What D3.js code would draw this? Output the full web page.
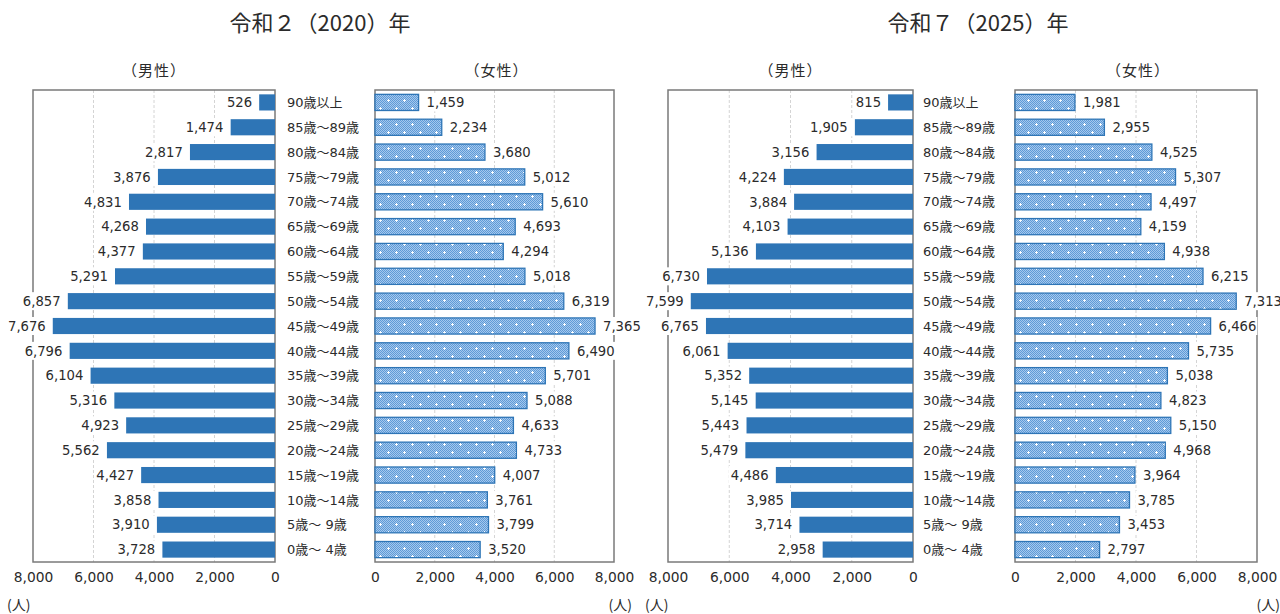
<!DOCTYPE html>
<html><head><meta charset="utf-8">
<script src="https://cdn.jsdelivr.net/npm/d3@7"></script>
<style>
html,body{margin:0;padding:0;background:#fff;}
svg text{font-family:"DejaVu Sans","Noto Sans CJK JP",sans-serif;fill:#2b2b2b;}
svg text.cjk{font-family:"Noto Sans CJK JP","Noto Sans",sans-serif;}
</style></head>
<body>
<svg id="c" width="1280" height="614"></svg>
<script>
const ages = ["90歳以上","85歳～89歳","80歳～84歳","75歳～79歳","70歳～74歳","65歳～69歳","60歳～64歳","55歳～59歳","50歳～54歳","45歳～49歳","40歳～44歳","35歳～39歳","30歳～34歳","25歳～29歳","20歳～24歳","15歳～19歳","10歳～14歳","5歳～ 9歳","0歳～ 4歳"];
const male2020 = [526,1474,2817,3876,4831,4268,4377,5291,6857,7676,6796,6104,5316,4923,5562,4427,3858,3910,3728];
const female2020 = [1459,2234,3680,5012,5610,4693,4294,5018,6319,7365,6490,5701,5088,4633,4733,4007,3761,3799,3520];
const male2025 = [815,1905,3156,4224,3884,4103,5136,6730,7599,6765,6061,5352,5145,5443,5479,4486,3985,3714,2958];
const female2025 = [1981,2955,4525,5307,4497,4159,4938,6215,7313,6466,5735,5038,4823,5150,4968,3964,3785,3453,2797];
const ticks = [0,2000,4000,6000,8000];
const titles = ["令和２（2020）年","令和７（2025）年"];
const sexLabels = ["（男性）","（女性）"];
const unitLabel = "(人)";

const svg = d3.select("#c");
const fmt = d3.format(",");

// pattern for female bars
const defs = svg.append("defs");
const pat = defs.append("pattern").attr("id","fpat").attr("patternUnits","userSpaceOnUse")
  .attr("width",16).attr("height",16);
pat.append("rect").attr("width",16).attr("height",16).attr("fill","#a4c8ee");
for (let i=0;i<16;i++) for (let j=0;j<16;j++) if ((i+j)%2===0)
  pat.append("rect").attr("x",i).attr("y",j).attr("width",1).attr("height",1).attr("fill","#5f9ad6");
[[4,4],[12,12]].forEach(([cx,cy])=>{
  pat.append("rect").attr("x",cx-1).attr("y",cy).attr("width",3).attr("height",1).attr("fill","#fff");
  pat.append("rect").attr("x",cx).attr("y",cy-1).attr("width",1).attr("height",3).attr("fill","#fff");
});

const yTop = 90, yBottom = 562;
const y = d3.scaleBand().domain(ages).range([yTop,yBottom]).paddingInner(0.35).paddingOuter(0.175);

const panels = [
  {title:titles[0], tx:320, male:male2020, female:female2020, m0:275, m8:33, f0:375, f8:614, ageX:287, mMin:8, unitL:7, unitR:632},
  {title:titles[1], tx:978, male:male2025, female:female2025, m0:913, m8:668, f0:1015, f8:1257, ageX:923, mMin:646, unitL:645, unitR:1280}
];
const VAL = 13.2;

function measure(str, size){
  const t = svg.append("text").attr("font-size",size).text(str);
  const w = t.node().getComputedTextLength(); t.remove(); return w;
}

panels.forEach(p=>{
  svg.append("text").attr("class","cjk").attr("x",p.tx).attr("y",31).attr("text-anchor","middle")
    .attr("font-size",22).text(p.title);

  const xm = d3.scaleLinear().domain([0,8000]).range([p.m0,p.m8]);
  const xf = d3.scaleLinear().domain([0,8000]).range([p.f0,p.f8]);

  [[xm,0],[xf,1]].forEach(([x,k])=>{
    const g = svg.append("g");
    const [a,b] = x.range(); const lo=Math.min(a,b), hi=Math.max(a,b);
    g.selectAll("line.grid").data(ticks.filter(t=>t>0&&t<8000)).join("line")
      .attr("x1",d=>x(d)).attr("x2",d=>x(d)).attr("y1",yTop).attr("y2",yBottom)
      .attr("stroke","#d4d4d4").attr("stroke-width",1).attr("stroke-dasharray","3,2");
    g.append("rect").attr("x",lo).attr("y",yTop).attr("width",hi-lo).attr("height",yBottom-yTop)
      .attr("fill","none").attr("stroke","#7a7a7a").attr("stroke-width",1.5);
    const ax = svg.append("g").attr("transform",`translate(0,${yBottom})`)
      .call(d3.axisBottom(x).tickValues(ticks).tickFormat(fmt).tickSize(0).tickPadding(10));
    ax.select(".domain").remove();
    ax.selectAll("text").attr("font-size",13.8).attr("fill","#2b2b2b")
      .style("font-family",'"DejaVu Sans","Noto Sans CJK JP",sans-serif');
    svg.append("text").attr("class","cjk").attr("x",(lo+hi)/2 + (k===0?0:2)).attr("y",76).attr("text-anchor","middle")
      .attr("font-size",15).attr("letter-spacing",1).text(sexLabels[k]);
  });

  svg.append("g").selectAll("rect").data(p.male).join("rect")
    .attr("x",d=>xm(d)).attr("width",d=>xm(0)-xm(d))
    .attr("y",(d,i)=>y(ages[i])).attr("height",y.bandwidth())
    .attr("fill","#2e75b6");
  svg.append("g").selectAll("rect").data(p.female).join("rect")
    .attr("x",xf(0)).attr("width",d=>xf(d)-xf(0))
    .attr("y",(d,i)=>y(ages[i])).attr("height",y.bandwidth())
    .attr("fill","url(#fpat)").attr("stroke","#2e75b6").attr("stroke-width",1.3);

  p.male.forEach((d,i)=>{
    const s = fmt(d), w = measure(s,VAL);
    let right = xm(d) - 7;
    if (right - w < p.mMin) right = p.mMin + w;
    const cy = y(ages[i]) + y.bandwidth()/2;
    svg.append("rect").attr("x",right-w-2).attr("y",cy-9).attr("width",w+9).attr("height",18).attr("fill","#fff");
    svg.append("text").attr("x",right).attr("y",cy).attr("dy","0.36em").attr("text-anchor","end")
      .attr("font-size",VAL).text(s);
  });
  p.female.forEach((d,i)=>{
    const s = fmt(d), w = measure(s,VAL);
    const left = xf(d) + 8;
    const cy = y(ages[i]) + y.bandwidth()/2;
    svg.append("rect").attr("x",left-2).attr("y",cy-9).attr("width",w+3).attr("height",18).attr("fill","#fff");
    svg.append("text").attr("x",left).attr("y",cy).attr("dy","0.36em")
      .attr("font-size",VAL).text(s);
  });

  svg.append("g").selectAll("text").data(ages).join("text")
    .attr("x",p.ageX).attr("y",d=>y(d)+y.bandwidth()/2).attr("dy","0.36em")
    .attr("font-size",13).text(d=>d);

  svg.append("text").attr("class","cjk").attr("x",p.unitL).attr("y",610).attr("font-size",14).text(unitLabel);
  svg.append("text").attr("class","cjk").attr("x",p.unitR).attr("y",610).attr("text-anchor","end").attr("font-size",14).text(unitLabel);
});
</script>
</body></html>
